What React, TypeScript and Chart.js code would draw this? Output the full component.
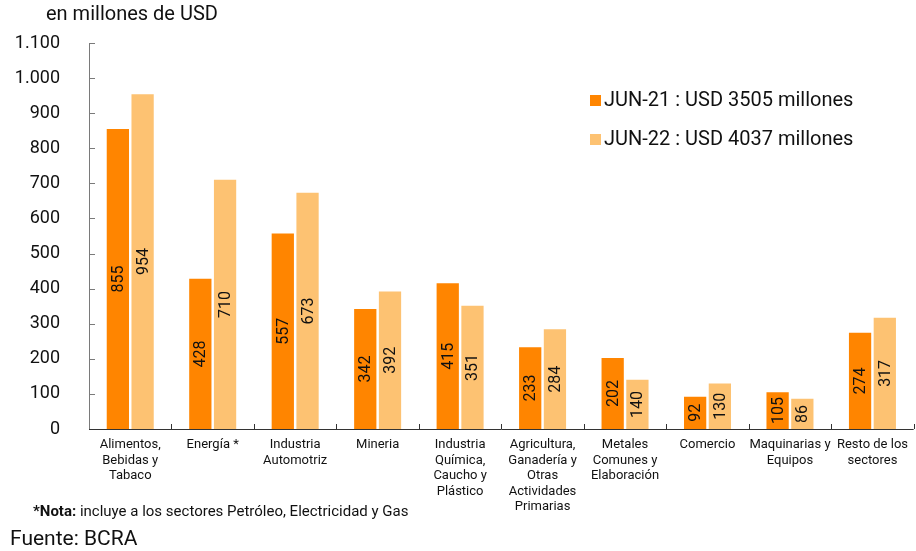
import React, { useEffect, useRef } from "react";
import { Chart, registerables } from "chart.js";

Chart.register(...registerables);

const categories: string[][] = [
  ["Alimentos,", "Bebidas y", "Tabaco"],
  ["Energía *"],
  ["Industria", "Automotriz"],
  ["Mineria"],
  ["Industria", "Química,", "Caucho y", "Plástico"],
  ["Agricultura,", "Ganadería y", "Otras", "Actividades", "Primarias"],
  ["Metales", "Comunes y", "Elaboración"],
  ["Comercio"],
  ["Maquinarias y", "Equipos"],
  ["Resto de los", "sectores"],
];
const jun21: number[] = [855, 428, 557, 342, 415, 233, 202, 92, 105, 274];
const jun22: number[] = [954, 710, 673, 392, 351, 284, 140, 130, 86, 317];
const seriesLabels: string[] = ["JUN-21 : USD 3505 millones", "JUN-22 : USD 4037 millones"];
const seriesColors: string[] = ["#FF8500", "#FDC272"];
const axisTitle = "en millones de USD";
const noteBold = "*Nota:";
const noteText = " incluye a los sectores Petróleo, Electricidad y Gas";
const sourceText = "Fuente: BCRA";

const FONT = "Roboto, 'Noto Sans', sans-serif";

const decorPlugin = {
  id: "decor",
  afterDatasetsDraw(chart: any) {
    const ctx = chart.ctx;
    ctx.save();
    ctx.font = `16px ${FONT}`;
    ctx.fillStyle = "#111";
    ctx.textAlign = "center";
    ctx.textBaseline = "middle";
    chart.data.datasets.forEach((ds: any, di: number) => {
      const meta = chart.getDatasetMeta(di);
      meta.data.forEach((bar: any, i: number) => {
        const cy = (bar.y + bar.base) / 2;
        ctx.save();
        ctx.translate(bar.x, cy);
        ctx.rotate(-Math.PI / 2);
        ctx.fillText(String(ds.data[i]), 0, 1);
        ctx.restore();
      });
    });
    ctx.restore();
  },
  afterDraw(chart: any) {
    const ctx = chart.ctx;
    const { left, right, bottom, top } = chart.chartArea;
    const y = chart.scales.y;
    ctx.save();
    ctx.strokeStyle = "#7a7a7a";
    ctx.lineWidth = 1;
    ctx.beginPath();
    ctx.moveTo(left + 0.5, top);
    ctx.lineTo(left + 0.5, bottom);
    y.ticks.forEach((t: any) => {
      const py = Math.round(y.getPixelForValue(t.value)) + 0.5;
      ctx.moveTo(left, py);
      ctx.lineTo(left + 6, py);
    });
    ctx.stroke();
    ctx.strokeStyle = "#333";
    ctx.beginPath();
    ctx.moveTo(left, bottom + 0.5);
    ctx.lineTo(right, bottom + 0.5);
    const n = chart.data.labels.length;
    const w = (right - left) / n;
    for (let i = 1; i <= n; i++) {
      const px = Math.round(left + i * w) + 0.5;
      ctx.moveTo(px, bottom);
      ctx.lineTo(px, bottom - 5);
    }
    ctx.stroke();
    ctx.fillStyle = "#111";
    ctx.font = `20px ${FONT}`;
    ctx.textAlign = "left";
    ctx.textBaseline = "middle";
    ctx.fillText(axisTitle, 46, 15);
    chart.data.datasets.forEach((ds: any, i: number) => {
      const ly = 101 + i * 39;
      ctx.fillStyle = ds.backgroundColor;
      ctx.fillRect(590, ly - 6, 11, 11);
      ctx.fillStyle = "#111";
      ctx.font = `20px ${FONT}`;
      ctx.fillText(ds.label, 604, ly);
    });
    ctx.font = `bold 15px ${FONT}`;
    ctx.fillText(noteBold, 33, 512);
    const bw = ctx.measureText(noteBold).width;
    ctx.font = `15px ${FONT}`;
    ctx.fillText(noteText, 33 + bw, 512);
    ctx.font = `21px ${FONT}`;
    ctx.fillText(sourceText, 10, 540);
    ctx.restore();
  },
};

export default function App() {
  const ref = useRef<HTMLCanvasElement | null>(null);
  useEffect(() => {
    document.body.style.margin = "0";
    const chart = new Chart(ref.current as HTMLCanvasElement, {
      type: "bar",
      data: {
        labels: categories,
        datasets: [
          {
            label: seriesLabels[0],
            data: jun21,
            backgroundColor: seriesColors[0],
            categoryPercentage: 0.6,
            barPercentage: 0.9,
          },
          {
            label: seriesLabels[1],
            data: jun22,
            backgroundColor: seriesColors[1],
            categoryPercentage: 0.6,
            barPercentage: 0.9,
          },
        ],
      },
      options: {
        animation: false,
        responsive: false,
        maintainAspectRatio: false,
        layout: { padding: { top: 43, left: 0, right: 0, bottom: 0 } },
        plugins: { legend: { display: false }, tooltip: { enabled: false } },
        scales: {
          x: {
            grid: { display: false, drawTicks: false },
            border: { display: false },
            ticks: {
              color: "#111",
              font: { family: FONT, size: 13, lineHeight: 1.2 },
              padding: 8,
              maxRotation: 0,
              autoSkip: false,
            },
            afterFit: (s: any) => {
              s.height = 122;
            },
          },
          y: {
            min: 0,
            max: 1100,
            grid: { display: false, drawTicks: false },
            border: { display: false },
            ticks: {
              stepSize: 100,
              color: "#111",
              padding: 29,
              font: { family: FONT, size: 18 },
              callback: (v: any) => Number(v).toLocaleString("de-DE"),
            },
            afterFit: (s: any) => {
              s.width = 89;
            },
          },
        },
      },
      plugins: [decorPlugin],
    });
    return () => chart.destroy();
  }, []);
  return (
    <div style={{ width: 916, height: 551, position: "relative", background: "#fff" }}>
      <canvas ref={ref} width={916} height={551} />
    </div>
  );
}
